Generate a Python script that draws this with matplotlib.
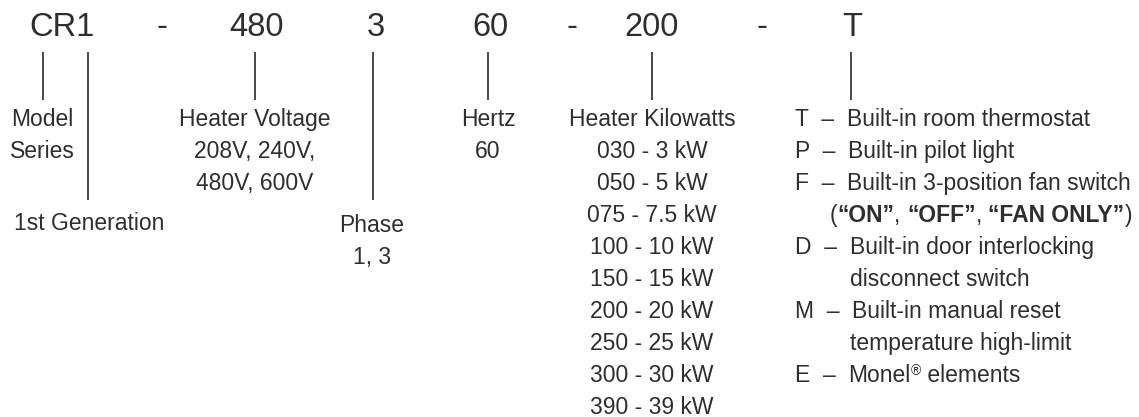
import matplotlib
matplotlib.use('Agg')
import matplotlib.pyplot as plt

# model number pieces across the top
codeParts = ['CR1', '-', '480', '3', '60', '-', '200', '-', 'T']
codeX = [62, 162, 256, 376, 490, 572, 652, 762, 852]

# column headings and the values listed under them
voltageValues = ['208V, 240V,', '480V, 600V']
hertzValues = ['60']
phaseValues = ['1, 3']
kilowattValues = ['030 - 3 kW', '050 - 5 kW', '075 - 7.5 kW', '100 - 10 kW', '150 - 15 kW',
                  '200 - 20 kW', '250 - 25 kW', '300 - 30 kW', '390 - 39 kW']
optionLetters = ['T', 'P', 'F', 'D', 'M', 'E']
optionText = ['Built-in room thermostat', 'Built-in pilot light', 'Built-in 3-position fan switch',
              'Built-in door interlocking', 'Built-in manual reset', 'Monel']
optionExtra = {'D': 'disconnect switch', 'M': 'temperature high-limit'}

textColor = '#2e2e2e'
lineColor = '#3a3a3a'
bigSize = 23.5
smallSize = 16.5
fontName = 'Liberation Sans'

fig = plt.figure(figsize=(11.39, 4.17), dpi=100)
ax = fig.add_axes([0, 0, 1, 1])
ax.set_xlim(0, 1139)
ax.set_ylim(417, 0)
ax.axis('off')

def label(x, y, s, ha='center', weight='normal', size=smallSize):
    return ax.text(x, y, s, ha=ha, va='baseline', fontsize=size, color=textColor,
                   family=fontName, fontweight=weight)

for part, x in zip(codeParts, codeX):
    label(x, 36, part, size=bigSize)

# leader lines: (x, bottom)
leaders = [(43, 100), (88, 200), (255, 100), (373, 200), (488, 100), (652, 100), (851, 100)]
for x, bottom in leaders:
    ax.plot([x, x], [52, bottom], color=lineColor, lw=1.3, solid_capstyle='butt')

rowTop = 126
rowStep = 32

label(42, rowTop, 'Model')
label(42, rowTop + rowStep, 'Series')
label(89, 230, '1st Generation')

label(255, rowTop, 'Heater Voltage')
for i, v in enumerate(voltageValues):
    label(255, rowTop + rowStep * (i + 1), v)

label(372, 232, 'Phase')
label(372, 264, phaseValues[0])

label(488, rowTop, 'Hertz')
label(488, rowTop + rowStep, hertzValues[0])

label(652, rowTop, 'Heater Kilowatts')
for i, v in enumerate(kilowattValues):
    label(652, rowTop + rowStep * (i + 1), v)

# option list on the right, some entries take two lines
fig.canvas.draw()
renderer = fig.canvas.get_renderer()

def pieces(x, y, parts):
    # draw text pieces one after another, each (string, weight, raise)
    for s, weight, lift in parts:
        size = smallSize * 0.6 if lift else smallSize
        t = ax.text(x, y - lift, s, ha='left', va='baseline', fontsize=size, color=textColor,
                    family=fontName, fontweight=weight)
        bb = t.get_window_extent(renderer)
        x += bb.width

row = 0
for letter, desc in zip(optionLetters, optionText):
    y = rowTop + rowStep * row
    head = (letter + '  \u2013  ', 'normal', 0)
    if letter == 'E':
        pieces(795, y, [head, (desc, 'normal', 0), ('\u00ae', 'normal', 7),
                        (' elements', 'normal', 0)])
    else:
        pieces(795, y, [head, (desc, 'normal', 0)])
    row += 1
    if letter == 'F':
        pieces(830, rowTop + rowStep * row,
               [('(', 'normal', 0), ('\u201cON\u201d', 'bold', 0), (', ', 'normal', 0),
                ('\u201cOFF\u201d', 'bold', 0), (', ', 'normal', 0),
                ('\u201cFAN ONLY\u201d', 'bold', 0), (')', 'normal', 0)])
        row += 1
    if letter in optionExtra:
        label(850, rowTop + rowStep * row, optionExtra[letter], ha='left')
        row += 1

fig.savefig('out.png', dpi=100, facecolor='white')
